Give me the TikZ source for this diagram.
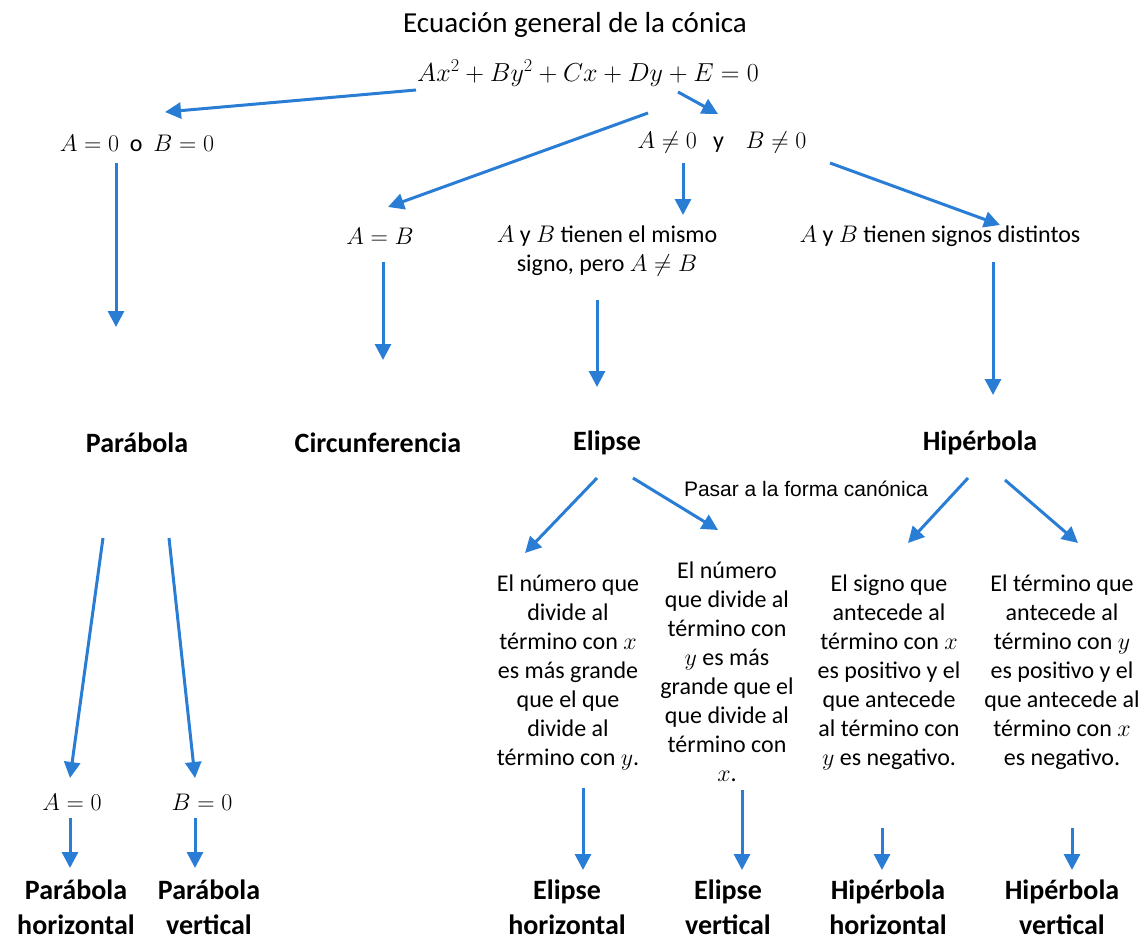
\RequirePackage{fix-cm}
\documentclass[tikz,border=0pt]{standalone}
\usepackage[no-math]{fontspec}
\setmainfont{Carlito}
\newfontfamily\arialfont{Liberation Sans}
\usepackage{amsmath}
\usetikzlibrary{arrows.meta,calc}

\begin{document}
\begin{tikzpicture}[x=1pt,y=-1pt,
  texto/.style={inner sep=0pt,align=center,font=\fontsize{24}{29}\selectfont},
  conica/.style={inner sep=0pt,align=center,font=\fontsize{28}{35}\selectfont\bfseries},
  flecha/.style={draw=azul,line width=3pt,-{Triangle[length=16pt,width=16pt]}}]
  \definecolor{azul}{RGB}{42,125,213}
  \useasboundingbox (0,0) rectangle (1143,939);
  \node[inner sep=0pt,font=\fontsize{29}{35}\selectfont] (tit) at (575,25) {Ecuación general de la cónica};
  \node[texto,font=\fontsize{26}{31}\selectfont] (ecu) at (588,73) {$Ax^2+By^2+Cx+Dy+E=0$};
  \node[texto] (aob) at (137,143) {$A=0$\ \ o\ \ $B=0$};
  \node[texto] (ayb) at (722,143) {$A\neq0$\ \ \ y\ \ \ \ $B\neq0$};
  \node[texto] (aigb) at (380,236) {$A=B$};
  \node[texto] (mismo) at (607,251) {$A$ y $B$ tienen el mismo\\signo, pero $A\neq B$};
  \node[texto] (dist) at (940,236) {$A$ y $B$ tienen signos distintos};
  \node[conica] (par) at (137,443) {Parábola};
  \node[conica] (cir) at (378,443) {Circunferencia};
  \node[conica] (eli) at (607,443) {Elipse};
  \node[conica] (hip) at (980,443) {Hipérbola};
  \node[inner sep=0pt,font=\arialfont\fontsize{21}{25}\selectfont] (pasar) at (806,489) {Pasar a la forma canónica};
  \node[texto] (t1) at (568,672) {El número que\\divide al\\término con $x$\\es más grande\\que el que\\divide al\\término con $y$.};
  \node[texto] (t2) at (727,672) {El número\\que divide al\\término con\\$y$ es más\\grande que el\\que divide al\\término con\\$x$.};
  \node[texto] (t3) at (889,672) {El signo que\\antecede al\\término con $x$\\es positivo y el\\que antecede\\al término con\\$y$ es negativo.};
  \node[texto] (t4) at (1062,672) {El término que\\antecede al\\término con $y$\\es positivo y el\\que antecede al\\término con $x$\\es negativo.};
  \node[texto] (pa0) at (72,802) {$A=0$};
  \node[texto] (pb0) at (202,802) {$B=0$};
  \node[conica] (ph) at (76,907) {Parábola\\horizontal};
  \node[conica] (pv) at (209,907) {Parábola\\vertical};
  \node[conica] (eh) at (567,907) {Elipse\\horizontal};
  \node[conica] (ev) at (728,907) {Elipse\\vertical};
  \node[conica] (hh) at (888,907) {Hipérbola\\horizontal};
  \node[conica] (hv) at (1062,907) {Hipérbola\\vertical};
  \foreach \a/\ax/\ay/\b/\bx/\by in {ecu/-172/17/aob/28/-31, ecu/90/19/ayb/-4/-29,
      ayb/-74/-30/aigb/8/-29, ayb/-39/20/mismo/76/-36, ayb/108/20/dist/60/-11,
      aob/-21/20/par/-21/-116, aigb/3/26/cir/5/-83, mismo/-10/49/eli/-10/-56,
      dist/53/26/hip/13/-48, eli/-10/35/t1/-43/-119, eli/26/35/t2/-9/-142,
      hip/-12/35/t3/19/-129, hip/25/37/t4/16/-129, par/-34/95/pa0/-2/-24,
      par/32/95/pb0/-7/-24, pa0/-2/16/ph/-6/-39, pb0/-7/16/pv/-14/-39,
      t1/15/116/eh/16/-37, t2/15/118/ev/14/-37, t3/-7/156/hh/-6/-37,
      t4/10/156/hv/10/-37}
    \draw[flecha] ($(\a)+(\ax,\ay)$) -- ($(\b)+(\bx,\by)$);
\end{tikzpicture}
\end{document}
